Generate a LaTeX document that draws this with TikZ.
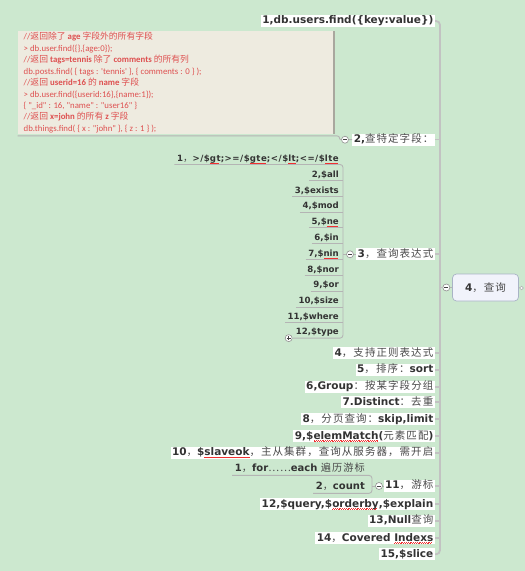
\documentclass[tikz,border=0pt]{standalone}
\usepackage{fontspec}
\setmainfont{DejaVu Sans}
\newfontfamily\cjk{Noto Sans CJK SC}[LetterSpace=10]
\newfontfamily\cjkcode{Noto Sans CJK SC}
\newfontfamily\codefont{Carlito}
\definecolor{bg}{HTML}{CCE8CF}
\definecolor{txt}{HTML}{333333}
\definecolor{zhgray}{HTML}{4A4A4A}
\definecolor{linegray}{HTML}{B4B4B4}
\definecolor{mainline}{HTML}{C2C2C2}
\definecolor{codebg}{HTML}{EEEBE0}
\definecolor{codeedge}{HTML}{A9A79E}
\definecolor{codered}{HTML}{DE5050}
\definecolor{sqred}{HTML}{F03030}
\definecolor{boxedge}{HTML}{A9B3C6}
\definecolor{boxfill}{HTML}{F1F3FB}
\newsavebox\sqbox
\newcommand\sq[1]{\sbox\sqbox{#1}\rlap{\color{sqred}\hbox to \wd\sqbox{\leaders\hbox{\rule[-2.4pt]{0.55pt}{0.55pt}\kern0.35pt\rule[-1.8pt]{0.55pt}{0.55pt}\kern0.35pt}\hfill}}\usebox\sqbox}
\newcommand\zh[1]{{\cjk\mdseries\color{zhgray}#1}}
\newcommand\zhs[1]{{\fontsize{9.6}{11}\cjk\mdseries\color{zhgray}#1}}
\newcommand\zhm[1]{{\fontsize{10.2}{12}\cjk\mdseries\color{zhgray}#1}}
\newcommand\zc[1]{{\cjkcode #1}}
\begin{document}
\begin{tikzpicture}[x=1pt,y=-1pt,
  lbl/.style={fill=white, inner xsep=1.5pt, inner ysep=1pt, text height=7.8pt, text depth=2.2pt,
    font=\fontsize{10.5}{12}\selectfont\bfseries, text=txt, anchor=east},
  sub/.style={inner xsep=2.5pt, inner ysep=1pt, text height=6.5pt, text depth=2pt,
    font=\fontsize{8.6}{10}\selectfont\bfseries, text=txt, anchor=east},
  subbig/.style={sub, text height=7.5pt, text depth=2.2pt, font=\fontsize{10}{12}\selectfont\bfseries},
  conn/.style={draw=linegray, line width=0.9pt},
  trunk/.style={draw=mainline, line width=1.8pt},
  btn/.style={circle, draw=linegray!80!black, fill=white, minimum size=7pt, inner sep=0pt, line width=0.6pt},
  btnminus/.style={btn, path picture={\draw[line width=0.9pt, black!75]
     ([xshift=-2pt]path picture bounding box.center) -- ([xshift=2pt]path picture bounding box.center);}},
  btnplus/.style={btn, path picture={\draw[line width=0.8pt, black!75]
     ([xshift=-2pt]path picture bounding box.center) -- ([xshift=2pt]path picture bounding box.center)
     ([yshift=-2pt]path picture bounding box.center) -- ([yshift=2pt]path picture bounding box.center);}},
  codeline/.style={anchor=base west, inner sep=0pt, font=\fontsize{8.8}{10}\codefont, text=codered},
  rootbox/.style={rounded corners=4pt, draw=boxedge, fill=boxfill, line width=0.7pt,
    minimum width=66pt, minimum height=27pt, inner sep=0pt, font=\fontsize{10.5}{12}\selectfont\bfseries, text=txt}
]
\useasboundingbox[fill=bg] (0,0) rectangle (525,571);

% ---------- coordinates of vertical lines
\coordinate (vm) at (440,0);
\coordinate (v3) at (343,0);
\coordinate (v11) at (372,0);

% ---------- root
\node[rootbox] (root) at (485.5,287.5) {4\zh{，查询}};
\node[btnminus] (m4) at (446.3,287.5) {};
\node[circle, draw=linegray, fill=white, minimum size=3.6pt, inner sep=0pt, line width=0.6pt] (rc) at (521.6,288) {};

% ---------- level 2 labels
\node[lbl] (b1) at (435,21) {1,db.users.find(\{key:value\})};
\node[lbl] (b2) at (435,139.5) {2,\zh{查特定字段：}};
\node[lbl] (b3) at (435,254.3) {3\zh{，查询表达式}};
\node[lbl] (b4) at (435,353.3) {4\zh{，支持正则表达式}};
\node[lbl] (b5) at (435,370) {5\zh{，排序：}sort};
\node[lbl] (b6) at (435,386.7) {6,Group\zh{：按某字段分组}};
\node[lbl] (b7) at (435,402.3) {7.Distinct\zh{：去重}};
\node[lbl] (b8) at (435,419.3) {8\zh{，分页查询：}skip,limit};
\node[lbl] (b9) at (435,436.3) {9,\$\sq{elemMatch}(\zh{元素匹配})};
\node[lbl] (b10) at (435,452.7) {10\zh{，}\$\sq{slaveok}\zh{，主从集群，查询从服务器，需开启}};
\node[lbl] (b11) at (435,486) {11\zh{，游标}};
\node[lbl] (b12) at (435,504.3) {12,\$query,\$\sq{orderby},\$explain};
\node[lbl] (b13) at (435,521) {13,Null\zh{查询}};
\node[lbl] (b14) at (435,538.3) {14\zh{，}Covered \sq{Indexs}};
\node[lbl] (b15) at (435,554.3) {15,\$slice};

% ---------- trunk
\draw[trunk, rounded corners=4pt] (b1.east) -- (b1.east -| vm) -- (b15.east -| vm) -- (b15.east);
\foreach \n in {b2,b3,b4,b5,b6,b7,b8,b9,b10,b11,b12,b13,b14}
  \draw[trunk] (\n.east) -- (\n.east -| vm);
\draw[trunk] (m4.west -| vm) -- (m4.west);
\draw[conn] (m4.east) -- (root.west);
\draw[conn] (root.east) -- (rc.west);

% ---------- code box (child of 2)
\node[fill=codebg, anchor=north west, minimum width=316pt, minimum height=102.5pt, inner sep=0pt] (code) at (17.5,31) {};
\draw[codeedge, line width=1.6pt] (code.north east) -- (code.south east);
\node[btnminus] (m2) at (345,139.7) {};
\draw[conn] ([yshift=-2pt]code.south west) -- ([yshift=-2pt,xshift=3pt]code.south east)
   .. controls +(4,0) and +(-3,0) .. (m2.west);
\draw[conn] (m2.east) -- (b2.west);

\node[codeline] (cl1) at (23.5,39.8) {//\zc{返回除了} \textbf{age} \zc{字段外的所有字段}};
\node[codeline] (cl2) at (23.5,51.2) {> db.user.find(\{\},\{age:0\});};
\node[codeline] (cl3) at (23.5,62.7) {//\zc{返回} \textbf{tags=tennis} \zc{除了} \textbf{comments} \zc{的所有列}};
\node[codeline] (cl4) at (23.5,74.1) {db.posts.find( \{ tags : \textquotesingle tennis\textquotesingle\ \}, \{ comments : 0 \} );};
\node[codeline] (cl5) at (23.5,85.6) {//\zc{返回} \textbf{userid=16} \zc{的} \textbf{name} \zc{字段}};
\node[codeline] (cl6) at (23.5,97.0) {> db.user.find(\{userid:16\},\{name:1\});};
\node[codeline] (cl7) at (23.5,108.5) {\{ "\_id" : 16, "name" : "user16" \}};
\node[codeline] (cl8) at (23.5,119.9) {//\zc{返回} \textbf{x=john} \zc{的所有} \textbf{z} \zc{字段}};
\node[codeline] (cl9) at (23.5,131.3) {db.things.find( \{ x : "john" \}, \{ z : 1 \} );};

% ---------- children of 3
\node[btnminus] (m3) at (350,254.3) {};
\draw[conn] (m3.east) -- (b3.west);
\node[sub] (a1) at (341.5,159) {\addfontfeatures{LetterSpace=6}1\zhs{，}>/\$\sq{gt};>=/\$\sq{gte};</\$\sq{lt};<=/\$\sq{lte}};
\node[sub] (a2) at (341.5,175) {2,\$all};
\node[sub] (a3) at (341.5,191) {3,\$exists};
\node[sub] (a4) at (341.5,206.7) {4,\$mod};
\node[sub] (a5) at (341.5,222.3) {5,\$\sq{ne}};
\node[sub] (a6) at (341.5,238.3) {6,\$in};
\node[sub] (a7) at (341.5,254.3) {7,\$\sq{nin}};
\node[sub] (a8) at (341.5,270) {8,\$nor};
\node[sub] (a9) at (341.5,285.7) {9,\$or};
\node[sub] (a10) at (341.5,301.7) {10,\$size};
\node[sub] (a11) at (341.5,317) {11,\$where};
\node[sub] (a12) at (341.5,332.7) {12,\$type};
\draw[conn, rounded corners=3pt] (a1.south west) -- (a1.south west -| v3) -- (a12.south west -| v3) -- (a12.south west);
\foreach \n in {a2,a3,a4,a5,a6,a7,a8,a9,a10,a11}
  \draw[conn] (\n.south west) -- (\n.south west -| v3);
\draw[conn] (m3.west) -- (m3.west -| v3);
\node[btnplus] (p12) at ([xshift=-4.5pt]a12.south west) {};

% ---------- children of 11
\node[btnminus] (m11) at (379,486) {};
\draw[conn] (m11.east) -- (b11.west);
\node[subbig] (c1) at (367.5,469.3) {1\zhm{，}for\zhm{……}each \zhm{遍历游标}};
\node[subbig] (c2) at (367.5,487.3) {2\zhm{，}count};
\draw[conn, rounded corners=3pt] (c1.south west) -- (c1.south west -| v11) -- (c2.south west -| v11) -- (c2.south west);
\draw[conn] (m11.west) -- (m11.west -| v11);
\end{tikzpicture}
\end{document}
